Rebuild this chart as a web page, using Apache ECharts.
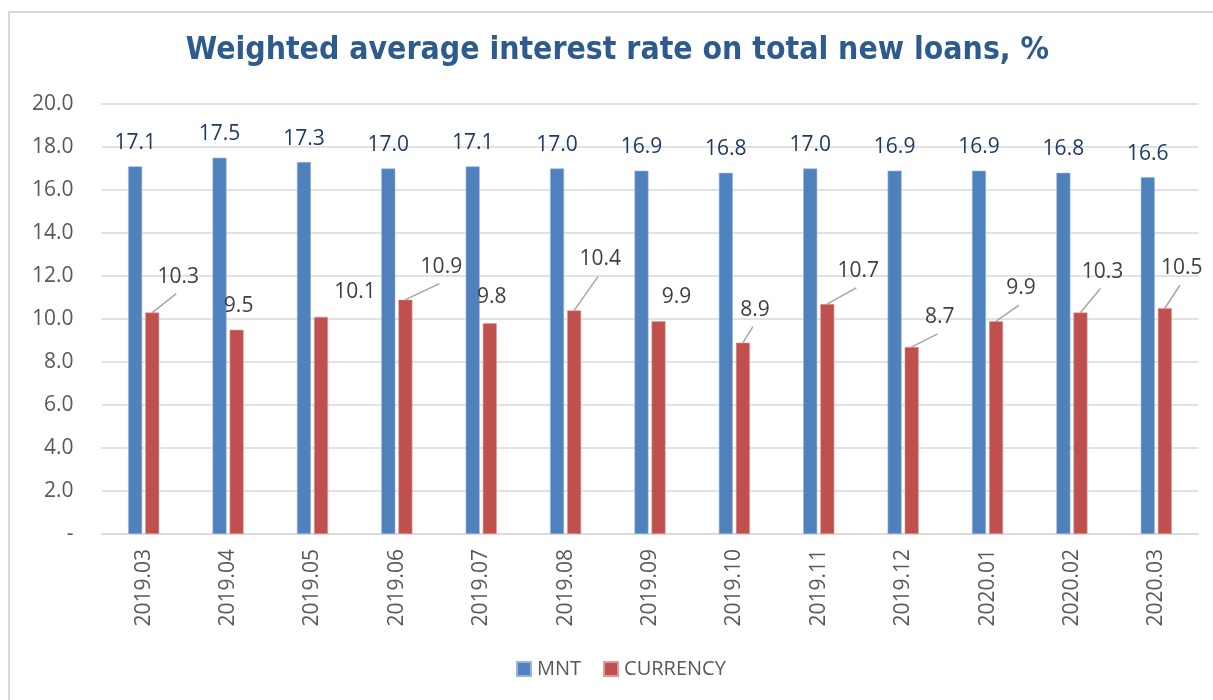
<!DOCTYPE html>
<html>
<head>
<meta charset="utf-8">
<title>Weighted average interest rate on total new loans</title>
<script src="https://cdn.jsdelivr.net/npm/echarts@6/dist/echarts.min.js"></script>
<style>
  html, body { margin: 0; padding: 0; background: #ffffff; overflow: hidden; width: 1213px; height: 700px; }
  #frame { position: absolute; left: 8px; top: 11px; width: 1230px; height: 700px;
           border-left: 2px solid #d9d9d9; border-top: 2px solid #d9d9d9; box-sizing: border-box; }
  #chart { position: absolute; left: 0; top: 0; width: 1235px; height: 700px; }
</style>
</head>
<body>
<div id="frame"></div>
<div id="chart"></div>
<script>
// Monthly periods
const months = ['2019.03', '2019.04', '2019.05', '2019.06', '2019.07', '2019.08', '2019.09',
                '2019.10', '2019.11', '2019.12', '2020.01', '2020.02', '2020.03'];
// Rates on new loans in tugrik, %
const mntRates = [17.1, 17.5, 17.3, 17.0, 17.1, 17.0, 16.9, 16.8, 17.0, 16.9, 16.9, 16.8, 16.6];
// Rates on new loans in foreign currency, %
const currencyRates = [10.3, 9.5, 10.1, 10.9, 9.8, 10.4, 9.9, 8.9, 10.7, 8.7, 9.9, 10.3, 10.5];

// Nudges for the currency value labels (pixels) and whether each gets a leader line
const currencyLabelShift = [[26, -20], [2, -8], [34, -9], [36, -17], [2, -10], [26, -35], [18, -8],
                            [12, -17], [31, -17], [28, -14], [25, -17], [22, -25], [17, -24]];
const currencyLeader = [true, false, false, true, false, true, false, true, true, true, true, true, true];

const BAR_WIDTH = 14;
const BAR_GAP = 0.22;
// Horizontal distance from a category centre to the centre of the second bar
const secondBarShift = (BAR_WIDTH + BAR_WIDTH * BAR_GAP) / 2;

const font = '"Open Sans", "Liberation Sans", sans-serif';

const chart = echarts.init(document.getElementById('chart'), null, { renderer: 'canvas' });

chart.setOption({
  backgroundColor: 'transparent',
  animation: false,
  title: {
    text: 'Weighted average interest rate on total new loans, %',
    left: 'center',
    top: 30,
    textStyle: {
      fontFamily: '"DejaVu Sans Condensed", "DejaVu Sans", sans-serif',
      fontWeight: 'bold',
      fontSize: 31.7,
      color: '#2e5b8e'
    }
  },
  legend: {
    bottom: 16,
    left: 511,
    itemWidth: 14,
    itemHeight: 14,
    itemGap: 22,
    icon: 'rect',
    textStyle: { fontFamily: font, fontSize: 20, color: '#595959', padding: [0, 0, 0, 1] },
    data: ['MNT', 'CURRENCY']
  },
  grid: { left: 101.5, right: 36.5, top: 104, bottom: 166, containLabel: false },
  xAxis: {
    type: 'category',
    data: months,
    axisLine: { show: true, lineStyle: { color: '#d9d9d9', width: 1.5 } },
    axisTick: { show: false },
    axisLabel: {
      rotate: 90,
      margin: 15,
      fontFamily: font,
      fontSize: 21,
      color: '#595959'
    }
  },
  yAxis: {
    type: 'value',
    min: 0,
    max: 20,
    interval: 2,
    axisLine: { show: false },
    axisTick: { show: false },
    splitLine: { lineStyle: { color: '#d9d9d9', width: 1.5 } },
    axisLabel: {
      margin: 28,
      fontFamily: font,
      fontSize: 21,
      color: '#595959',
      formatter: v => (v === 0 ? '-' : v.toFixed(1))
    }
  },
  series: [
    {
      name: 'MNT',
      type: 'bar',
      barWidth: BAR_WIDTH,
      barGap: BAR_GAP * 100 + '%',
      data: mntRates,
      itemStyle: { color: '#4f81bd', borderColor: '#9ab5d9', borderWidth: 0.6 },
      label: {
        show: true,
        position: 'top',
        distance: 13,
        fontFamily: font,
        fontSize: 21,
        color: '#1f3b64',
        formatter: p => p.value.toFixed(1)
      }
    },
    {
      name: 'CURRENCY',
      type: 'bar',
      barWidth: BAR_WIDTH,
      barGap: BAR_GAP * 100 + '%',
      data: currencyRates,
      itemStyle: { color: '#c0504d', borderColor: '#dc9a98', borderWidth: 0.6 }
    },
    {
      // Value labels of the currency bars, with leader lines from bar top to label bottom
      name: 'CURRENCY labels',
      type: 'custom',
      z: 5,
      silent: true,
      data: currencyRates.map((v, i) => [i, v]),
      encode: { x: 0, y: 1 },
      renderItem: (params, api) => {
        const i = api.value(0);
        const v = api.value(1);
        const top = api.coord([i, v]);
        const bx = top[0] + secondBarShift;
        const [dx, dy] = currencyLabelShift[i];
        const cx = bx + dx;
        const cy = top[1] - 16 + dy;
        const children = [];
        if (currencyLeader[i]) {
          children.push({
            type: 'line',
            shape: { x1: bx, y1: top[1], x2: cx - 2, y2: cy + 17 },
            style: { stroke: '#a6a6a6', lineWidth: 1.5 }
          });
        }
        children.push({
          type: 'text',
          style: {
            text: v.toFixed(1),
            x: cx,
            y: cy,
            align: 'center',
            verticalAlign: 'middle',
            font: '21px ' + font,
            fill: '#404040'
          }
        });
        return { type: 'group', children: children };
      }
    }
  ]
});
</script>
</body>
</html>
